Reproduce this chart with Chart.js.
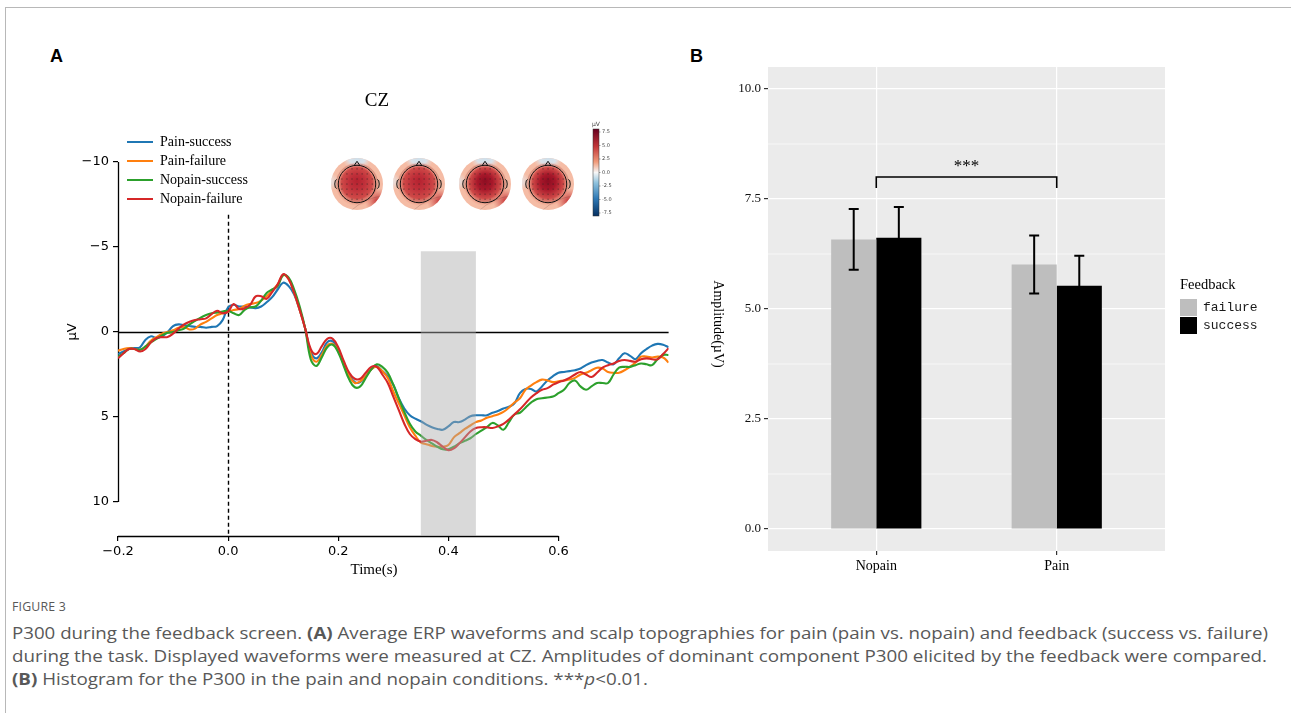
<!DOCTYPE html>
<html lang="en">
<head>
<meta charset="UTF-8" />
<title>P300 during the feedback screen</title>
<script src="https://cdn.jsdelivr.net/npm/chart.js"></script>
<style>
  body { margin: 0; background: #fff; width: 1291px; height: 713px; overflow: hidden; position: relative; }
  .frame { position: absolute; left: 5px; top: 7px; width: 1400px; height: 800px;
           border-top: 1px solid #b8b8b8; border-left: 1px solid #b8b8b8; }
  #waveWrap { position: absolute; left: 0; top: 0; }
  #barWrap { position: absolute; left: 690px; top: 0; }
  .plabel { position: absolute; font: bold 18px "Liberation Sans", Arial, sans-serif; color: #000; }
  .cap { position: absolute; left: 12px; color: #585858; font-family: "Open Sans", sans-serif;
         white-space: nowrap; transform-origin: 0 0; }
  .cap.head { font-size: 13px; letter-spacing: 0.2px; }
  .cap.line { font-size: 16.5px; }
</style>
</head>
<body>
<div class="frame"></div>
<div class="plabel" style="left:50px;top:46px">A</div>
<div class="plabel" style="left:690px;top:46px">B</div>

<div id="waveWrap"><canvas id="wave" width="690" height="590"></canvas></div>
<div id="barWrap"><canvas id="bars" width="601" height="590"></canvas></div>

<div class="cap head" style="top:597px" data-w="54">FIGURE 3</div>
<div class="cap line" data-w="1256" style="top:621px">P300 during the feedback screen. <b>(A)</b> Average ERP waveforms and scalp topographies for pain (pain vs. nopain) and feedback (success vs. failure)</div>
<div class="cap line" data-w="1255" style="top:644px">during the task. Displayed waveforms were measured at CZ. Amplitudes of dominant component P300 elicited by the feedback were compared.</div>
<div class="cap line" data-w="636" style="top:667px"><b>(B)</b> Histogram for the P300 in the pain and nopain conditions. ***<i>p</i>&lt;0.01.</div>

<script>
// ---- panel A: ERP waveforms at CZ (µV, negative up) ----
const times = [
  -0.20, -0.19, -0.18, -0.17, -0.16, -0.15, -0.14, -0.13, -0.12, -0.11,
  -0.10, -0.09, -0.08, -0.07, -0.06, -0.05, -0.04, -0.03, -0.02, -0.01,
  0.00, 0.01, 0.02, 0.03, 0.04, 0.05, 0.06, 0.07, 0.08, 0.09,
  0.10, 0.11, 0.12, 0.13, 0.14, 0.15, 0.16, 0.17, 0.18, 0.19,
  0.20, 0.21, 0.22, 0.23, 0.24, 0.25, 0.26, 0.27, 0.28, 0.29,
  0.30, 0.31, 0.32, 0.33, 0.34, 0.35, 0.36, 0.37, 0.38, 0.39,
  0.40, 0.41, 0.42, 0.43, 0.44, 0.45, 0.46, 0.47, 0.48, 0.49,
  0.50, 0.51, 0.52, 0.53, 0.54, 0.55, 0.56, 0.57, 0.58, 0.59,
  0.60, 0.61, 0.62, 0.63, 0.64, 0.65, 0.66, 0.67, 0.68, 0.69,
  0.70, 0.71, 0.72, 0.73, 0.74, 0.75, 0.76, 0.77, 0.78, 0.79, 0.80
];
const painSuccess = [
  1.3, 1.15, 1.0, 0.95, 0.9, 0.45, 0.25, 0.35, 0.25, 0.0,
  -0.35, -0.45, -0.4, -0.35, -0.3, -0.3, -0.25, -0.3, -0.35, -0.7,
  -1.45, -1.6, -1.5, -1.5, -1.45, -1.4, -1.5, -1.75, -2.05, -2.5,
  -2.9, -2.7, -2.2, -1.3, -0.2, 1.15, 1.55, 1.2, 0.6, 0.55,
  1.0, 1.8, 2.5, 2.95, 2.95, 2.6, 2.2, 2.0, 2.3, 2.6,
  3.1, 3.9, 4.5, 4.9, 5.1, 5.25, 5.45, 5.6, 5.7, 5.75,
  5.55, 5.3, 5.3, 5.15, 4.95, 4.9, 4.9, 4.9, 4.75, 4.65,
  4.5, 4.4, 4.2, 3.6, 3.35, 3.35, 3.5, 3.2, 2.85, 2.6,
  2.4, 2.35, 2.3, 2.25, 2.15, 1.95, 1.8, 1.7, 1.65, 1.8,
  1.9, 1.55, 1.25, 1.4, 1.6, 1.25, 1.0, 0.8, 0.7, 0.75, 0.9
];
const painFailure = [
  1.1, 1.0, 0.95, 1.0, 1.05, 0.85, 0.5, 0.3, 0.1, 0.0,
  -0.1, -0.25, -0.3, -0.15, -0.2, -0.45, -0.6, -0.8, -1.0, -1.1,
  -1.2, -1.3, -1.35, -1.55, -1.65, -1.7, -1.85, -2.1, -2.45, -2.8,
  -3.35, -3.1, -2.3, -1.3, -0.2, 1.3, 1.75, 1.35, 0.8, 0.7,
  1.1, 1.9, 2.6, 3.0, 2.9, 2.6, 2.2, 2.05, 2.3, 2.7,
  3.5, 4.2, 4.9, 5.6, 6.1, 6.5, 6.6, 6.7, 6.75, 6.75,
  6.65, 6.2, 5.95, 5.7, 5.5, 5.3, 5.2, 5.05, 4.95, 4.85,
  4.7, 4.45, 4.15, 3.9, 3.4, 3.15, 2.95, 2.8, 2.85, 2.95,
  2.9, 2.85, 2.8, 2.7, 2.5, 2.4, 2.25, 2.1, 2.15, 2.35,
  2.4, 2.4, 2.25, 2.05, 1.8, 1.45, 1.45, 1.5, 1.45, 1.5, 1.8
];
const nopainSuccess = [
  1.45, 1.25, 1.0, 1.0, 1.05, 0.85, 0.6, 0.4, 0.2, 0.05,
  0.0, -0.1, -0.2, -0.45, -0.65, -0.85, -1.0, -1.1, -1.15, -1.2,
  -1.25, -1.1, -1.0, -1.3, -1.45, -1.5, -1.85, -2.3, -2.5, -2.7,
  -3.35, -3.2, -2.5, -1.5, -0.2, 1.6, 2.0, 1.5, 0.9, 0.75,
  1.2, 2.0, 2.8, 3.25, 3.2, 2.7, 2.2, 1.9, 2.05, 2.4,
  3.1, 3.9, 4.7, 5.4, 5.85, 6.1, 6.35, 6.55, 6.75, 6.9,
  6.9, 6.75, 6.55, 6.4, 6.25, 6.0, 5.8, 5.6, 5.35, 5.5,
  5.75, 5.3, 4.85, 4.75, 4.45, 4.15, 3.95, 3.9, 3.85, 3.8,
  3.6, 3.4, 3.0, 2.85, 3.2, 3.4, 3.2, 3.0, 3.0, 3.0,
  2.5, 2.1, 2.05, 2.05, 1.95, 1.85, 1.9, 1.95, 1.6, 1.35, 1.35
];
const nopainFailure = [
  1.55, 1.25, 1.0, 1.0, 1.15, 1.0, 0.6, 0.35, 0.3, 0.3,
  0.1, -0.2, -0.45, -0.6, -0.7, -0.75, -0.8, -1.05, -1.25, -1.1,
  -1.2, -1.65, -1.35, -1.4, -1.6, -2.1, -2.1, -1.95, -2.35, -2.8,
  -3.4, -3.1, -2.3, -1.3, -0.2, 1.0, 1.3, 0.85, 0.4, 0.4,
  0.9, 1.7, 2.4, 2.75, 2.75, 2.4, 2.05, 2.05, 2.5, 3.0,
  3.8, 4.6, 5.4, 6.0, 6.3, 6.45, 6.4, 6.35, 6.5, 6.75,
  6.95, 6.85, 6.55, 6.2, 5.85, 5.65, 5.6, 5.6, 5.65, 5.55,
  5.4, 5.15, 4.85, 4.55, 4.2, 3.85, 3.6, 3.4, 3.3, 3.1,
  2.95, 2.85, 2.7, 2.5, 2.35, 2.5, 2.65, 2.4, 2.1, 1.95,
  1.85, 1.7, 1.65, 1.7, 1.75, 1.6, 1.55, 1.6, 1.6, 1.3, 0.95
];
const conditions = ['Pain-success', 'Pain-failure', 'Nopain-success', 'Nopain-failure'];
const lineColors = ['#1f77b4', '#ff7f0e', '#2ca02c', '#d62728'];
const timeTicks = [-0.2, 0.0, 0.2, 0.4, 0.6];
const uvTicks = [-10, -5, 0, 5, 10];
const p300Window = [0.35, 0.45];
const topoStrength = [0.55, 0.6, 0.9, 0.85];
const cbarTicks = ['7.5', '5.0', '2.5', '0.0', '-2.5', '-5.0', '-7.5'];

// ---- panel B: mean P300 amplitude ----
const groups = ['Nopain', 'Pain'];
const feedback = ['failure', 'success'];
const failureMean = [6.58, 6.01];
const successMean = [6.62, 5.53];
const failureErr = [0.69, 0.66];
const successErr = [0.70, 0.68];
const ampTicks = [0, 2.5, 5, 7.5, 10];
const ampMinor = [1.25, 3.75, 6.25, 8.75];
const sigLevel = 8.0;

const fmtMinus = s => String(s).replace('-', '\u2212');

function drawTopo(ctx, cx, cy, r, k) {
  ctx.save();
  ctx.beginPath(); ctx.arc(cx, cy, r, 0, Math.PI * 2); ctx.clip();
  ctx.fillStyle = '#f5bca5'; ctx.fillRect(cx - r, cy - r, 2 * r, 2 * r);
  let g = ctx.createRadialGradient(cx, cy - r * 1.1, 0, cx, cy - r * 1.1, r * 0.6);
  g.addColorStop(0, 'rgba(200,222,236,1)'); g.addColorStop(0.6, 'rgba(215,230,240,0.9)'); g.addColorStop(1, 'rgba(240,220,215,0)');
  ctx.fillStyle = g; ctx.fillRect(cx - r, cy - r, 2 * r, 2 * r);
  g = ctx.createRadialGradient(cx - r * 1.05, cy - r * 0.1, 0, cx - r * 1.05, cy - r * 0.1, r * 0.35);
  g.addColorStop(0, 'rgba(225,235,242,0.9)'); g.addColorStop(1, 'rgba(225,235,242,0)');
  ctx.fillStyle = g; ctx.fillRect(cx - r, cy - r, 2 * r, 2 * r);
  g = ctx.createRadialGradient(cx + r * 0.8, cy + r * 0.65, 0, cx + r * 0.8, cy + r * 0.65, r * 0.5);
  g.addColorStop(0, 'rgba(195,45,50,0.95)'); g.addColorStop(1, 'rgba(210,80,75,0)');
  ctx.fillStyle = g; ctx.fillRect(cx - r, cy - r, 2 * r, 2 * r);
  g = ctx.createRadialGradient(cx, cy - r * 0.12, 0, cx, cy, r * 0.85);
  g.addColorStop(0, k > 0.8 ? '#8e0d22' : '#b52230');
  g.addColorStop(0.35, k > 0.8 ? '#a8182a' : '#c0303a');
  g.addColorStop(0.7, '#cf4a48');
  g.addColorStop(1, 'rgba(235,140,115,0)');
  ctx.fillStyle = g; ctx.fillRect(cx - r, cy - r, 2 * r, 2 * r);
  // faint contours
  ctx.strokeStyle = 'rgba(90,60,60,0.35)'; ctx.lineWidth = 0.6;
  ctx.beginPath(); ctx.ellipse(cx, cy - r * 0.05, r * 0.78, r * 0.72, 0, 0, Math.PI * 2); ctx.stroke();
  ctx.beginPath(); ctx.moveTo(cx - r * 0.2, cy + r); ctx.quadraticCurveTo(cx + r * 0.3, cy + r * 0.55, cx + r, cy + r * 0.45); ctx.stroke();
  ctx.restore();
  const hr = r * 0.72;
  ctx.save();
  ctx.strokeStyle = '#111'; ctx.lineWidth = 1;
  ctx.beginPath(); ctx.arc(cx, cy, hr, 0, Math.PI * 2); ctx.stroke();
  ctx.beginPath(); ctx.moveTo(cx - 3, cy - hr + 0.5); ctx.lineTo(cx, cy - hr - 4); ctx.lineTo(cx + 3, cy - hr + 0.5); ctx.stroke();
  ctx.beginPath(); ctx.ellipse(cx - hr - 1.5, cy, 2, 4.5, 0, Math.PI * 0.5, Math.PI * 1.5); ctx.stroke();
  ctx.beginPath(); ctx.ellipse(cx + hr + 1.5, cy, 2, 4.5, 0, -Math.PI * 0.5, Math.PI * 0.5); ctx.stroke();
  ctx.fillStyle = '#222';
  for (let i = -3; i <= 3; i++) {
    for (let j = -3; j <= 3; j++) {
      const px = cx + i * hr * 0.27, py = cy + j * hr * 0.27;
      if (Math.hypot(px - cx, py - cy) < hr * 0.92) ctx.fillRect(px - 0.4, py - 0.4, 0.9, 0.9);
    }
  }
  ctx.restore();
}

const waveDecor = {
  id: 'waveDecor',
  beforeDatasetsDraw(chart) {
    const { ctx, chartArea: a, scales: { x, y } } = chart;
    ctx.save();
    ctx.strokeStyle = '#000';
    ctx.lineWidth = 1.3;
    // trimmed spines
    ctx.beginPath();
    ctx.moveTo(a.left + 0.5, y.getPixelForValue(uvTicks[0]));
    ctx.lineTo(a.left + 0.5, y.getPixelForValue(uvTicks[uvTicks.length - 1]));
    ctx.moveTo(x.getPixelForValue(timeTicks[0]), a.bottom + 0.5);
    ctx.lineTo(x.getPixelForValue(timeTicks[timeTicks.length - 1]), a.bottom + 0.5);
    ctx.stroke();
    // zero line
    const y0 = Math.round(y.getPixelForValue(0)) + 0.5;
    ctx.beginPath();
    ctx.moveTo(x.getPixelForValue(times[0]), y0);
    ctx.lineTo(x.getPixelForValue(times[times.length - 1]), y0);
    ctx.stroke();
    // stimulus onset
    ctx.setLineDash([4, 3]);
    ctx.lineWidth = 1.4;
    const xz = Math.round(x.getPixelForValue(0)) + 0.5;
    ctx.beginPath();
    ctx.moveTo(xz, y.getPixelForValue(-6.9));
    ctx.lineTo(xz, a.bottom);
    ctx.stroke();
    ctx.restore();
  },
  afterDatasetsDraw(chart) {
    const { ctx, chartArea: a, scales: { x, y } } = chart;
    ctx.save();
    ctx.fillStyle = 'rgba(170,170,170,0.45)';
    const x0 = x.getPixelForValue(p300Window[0]), x1 = x.getPixelForValue(p300Window[1]);
    const yt = y.getPixelForValue(-4.75);
    ctx.fillRect(x0, yt, x1 - x0, a.bottom - yt);
    ctx.restore();
  },
  afterDraw(chart) {
    const { ctx, scales: { y } } = chart;
    ctx.save();
    // title
    ctx.fillStyle = '#000';
    ctx.font = '19px "Liberation Serif", serif';
    ctx.textAlign = 'center'; ctx.textBaseline = 'middle';
    ctx.fillText('CZ', 377, 101);
    // legend
    ctx.font = '14px "Liberation Serif", serif';
    ctx.textAlign = 'left';
    conditions.forEach((c, i) => {
      const ly = 142 + i * 19;
      ctx.strokeStyle = lineColors[i]; ctx.lineWidth = 2;
      ctx.beginPath(); ctx.moveTo(127, ly); ctx.lineTo(153, ly); ctx.stroke();
      ctx.fillStyle = '#000';
      ctx.fillText(c, 160, ly);
    });
    // axis titles
    ctx.font = '15px "Liberation Serif", serif';
    ctx.textAlign = 'center';
    ctx.fillText('Time(s)', 374, 570);
    ctx.save();
    ctx.translate(73, y.getPixelForValue(0));
    ctx.rotate(-Math.PI / 2);
    ctx.font = '13px "DejaVu Sans", sans-serif';
    ctx.fillText('\u00b5V', 0, 0);
    ctx.restore();
    // scalp maps
    [357, 419, 485, 548].forEach((cx, i) => drawTopo(ctx, cx, 184, 26, topoStrength[i]));
    // colorbar
    const g = ctx.createLinearGradient(0, 129, 0, 216);
    g.addColorStop(0, '#67001f'); g.addColorStop(0.2, '#c13639'); g.addColorStop(0.38, '#f09c7b');
    g.addColorStop(0.5, '#f7f7f7'); g.addColorStop(0.62, '#8fc2dd'); g.addColorStop(0.8, '#2f79b5'); g.addColorStop(1, '#053061');
    ctx.fillStyle = g; ctx.fillRect(593, 129, 6, 87);
    ctx.strokeStyle = '#333'; ctx.lineWidth = 0.5; ctx.strokeRect(593, 129, 6, 87);
    ctx.fillStyle = '#444';
    ctx.font = '5px "DejaVu Sans", sans-serif';
    ctx.textAlign = 'left';
    cbarTicks.forEach((t, i) => {
      const ty = 132 + i * 13.5;
      ctx.fillRect(599, ty - 0.25, 1.5, 0.5);
      ctx.fillText(t, 602, ty);
    });
    ctx.font = '6px "DejaVu Sans", sans-serif';
    ctx.fillText('\u00b5V', 592, 124);
    ctx.restore();
  }
};

new Chart(document.getElementById('wave'), {
  type: 'line',
  data: {
    datasets: [painSuccess, painFailure, nopainSuccess, nopainFailure].map((vals, i) => ({
      label: conditions[i],
      data: vals.map((v, j) => ({ x: times[j], y: v })),
      borderColor: lineColors[i],
      borderWidth: 2.1,
      pointRadius: 0,
      tension: 0.4,
      fill: false,
      order: 4 - i
    }))
  },
  options: {
    responsive: false,
    animation: false,
    layout: { padding: { top: 128, right: 21.4, left: 0, bottom: 0 } },
    plugins: { legend: { display: false }, tooltip: { enabled: false }, title: { display: false } },
    scales: {
      x: {
        type: 'linear', min: -0.2, max: 0.8,
        afterBuildTicks: s => { s.ticks = timeTicks.map(v => ({ value: v })); },
        afterFit: s => { s.height = 54; },
        border: { display: false },
        grid: { drawOnChartArea: false, drawTicks: true, tickLength: 5, color: '#000', lineWidth: 1.2 },
        ticks: { color: '#000', maxRotation: 0, padding: 3, font: { family: 'DejaVu Sans', size: 13 },
                 callback: v => fmtMinus(v.toFixed(1)) }
      },
      y: {
        type: 'linear', min: -12, max: 12, reverse: true,
        afterBuildTicks: s => { s.ticks = uvTicks.map(v => ({ value: v })); },
        afterFit: s => { s.width = 118; },
        border: { display: false },
        grid: { drawOnChartArea: false, drawTicks: true, tickLength: 5, color: '#000', lineWidth: 1.2 },
        ticks: { color: '#000', padding: 4, font: { family: 'DejaVu Sans', size: 13 },
                 callback: v => fmtMinus(v) }
      }
    }
  },
  plugins: [waveDecor]
});

// ---- panel B ----
const barDecor = {
  id: 'barDecor',
  beforeDraw(chart) {
    const { ctx, chartArea: a, scales: { y } } = chart;
    ctx.save();
    ctx.fillStyle = '#ebebeb';
    ctx.fillRect(a.left, a.top, a.right - a.left, a.bottom - a.top);
    ctx.strokeStyle = '#ffffff'; ctx.lineWidth = 0.6;
    ampMinor.forEach(v => {
      const py = y.getPixelForValue(v);
      ctx.beginPath(); ctx.moveTo(a.left, py); ctx.lineTo(a.right, py); ctx.stroke();
    });
    ctx.restore();
  },
  afterDatasetsDraw(chart) {
    const { ctx, scales: { x, y } } = chart;
    ctx.save();
    ctx.strokeStyle = '#000'; ctx.lineWidth = 2;
    [[failureMean, failureErr], [successMean, successErr]].forEach(([m, e], di) => {
      chart.getDatasetMeta(di).data.forEach((bar, i) => {
        const top = y.getPixelForValue(m[i] + e[i]), bot = y.getPixelForValue(m[i] - e[i]);
        ctx.beginPath();
        ctx.moveTo(bar.x, top); ctx.lineTo(bar.x, bot);
        ctx.moveTo(bar.x - 5, top); ctx.lineTo(bar.x + 5, top);
        ctx.moveTo(bar.x - 5, bot); ctx.lineTo(bar.x + 5, bot);
        ctx.stroke();
      });
    });
    // significance bracket between groups
    const bx0 = x.getPixelForValue(1), bx1 = x.getPixelForValue(2);
    const by = y.getPixelForValue(sigLevel), bt = y.getPixelForValue(sigLevel - 0.25);
    ctx.lineWidth = 1.6;
    ctx.beginPath();
    ctx.moveTo(bx0, bt); ctx.lineTo(bx0, by); ctx.lineTo(bx1, by); ctx.lineTo(bx1, bt);
    ctx.stroke();
    ctx.fillStyle = '#000';
    ctx.font = '17px "Liberation Serif", serif';
    ctx.textAlign = 'center'; ctx.textBaseline = 'middle';
    ctx.fillText('***', (bx0 + bx1) / 2, by - 10);
    ctx.restore();
  },
  afterDraw(chart) {
    const { ctx, chartArea: a } = chart;
    ctx.save();
    ctx.fillStyle = '#000';
    ctx.textBaseline = 'middle';
    ctx.font = '14px "Liberation Serif", serif';
    ctx.save();
    ctx.translate(28, (a.top + a.bottom) / 2 + 15);
    ctx.rotate(Math.PI / 2);
    ctx.textAlign = 'center';
    ctx.fillText('Amplitude(\u00b5V)', 0, 0);
    ctx.restore();
    // legend
    ctx.textAlign = 'left';
    ctx.font = '14.5px "Liberation Serif", serif';
    ctx.fillText('Feedback', 490, 285);
    const keyCols = ['#bebebe', '#000000'];
    ctx.font = '13px "Liberation Mono", monospace';
    feedback.forEach((f, i) => {
      const ky = 299 + i * 18;
      ctx.fillStyle = keyCols[i];
      ctx.fillRect(490, ky, 17, 17);
      ctx.fillStyle = '#1a1a1a';
      ctx.fillText(f, 513, ky + 8.5);
    });
    ctx.restore();
  }
};

new Chart(document.getElementById('bars'), {
  type: 'bar',
  data: {
    datasets: [
      { label: feedback[0], data: failureMean.map((v, i) => ({ x: i + 1, y: v })), backgroundColor: '#bebebe' },
      { label: feedback[1], data: successMean.map((v, i) => ({ x: i + 1, y: v })), backgroundColor: '#000000' }
    ]
  },
  options: {
    responsive: false,
    animation: false,
    categoryPercentage: 0.5,
    barPercentage: 1.0,
    layout: { padding: { top: 67, right: 126, left: 0, bottom: 0 } },
    plugins: { legend: { display: false }, tooltip: { enabled: false } },
    scales: {
      x: {
        type: 'linear', min: 0.4, max: 2.6, offset: false,
        afterBuildTicks: s => { s.ticks = groups.map((g, i) => ({ value: i + 1 })); },
        afterFit: s => { s.height = 39; },
        border: { display: false },
        grid: { color: '#ffffff', lineWidth: 1.2, tickColor: '#333', tickLength: 4, offset: false },
        ticks: { color: '#000', padding: 3, maxRotation: 0, font: { family: 'Liberation Serif', size: 14 },
                 callback: v => groups[v - 1] }
      },
      y: {
        type: 'linear', min: -0.5, max: 10.5,
        afterBuildTicks: s => { s.ticks = ampTicks.map(v => ({ value: v })); },
        afterFit: s => { s.width = 78; },
        border: { display: false },
        grid: { color: '#ffffff', lineWidth: 1.2, tickColor: '#333', tickLength: 4 },
        ticks: { color: '#111', padding: 3, font: { family: 'Liberation Serif', size: 13 },
                 callback: v => v.toFixed(1) }
      }
    }
  },
  plugins: [barDecor]
});

// fit caption lines to the column width
document.querySelectorAll('.cap').forEach(el => {
  const w = el.getBoundingClientRect().width;
  el.style.transform = 'scaleX(' + (Number(el.dataset.w) / w) + ')';
});
</script>
</body>
</html>
